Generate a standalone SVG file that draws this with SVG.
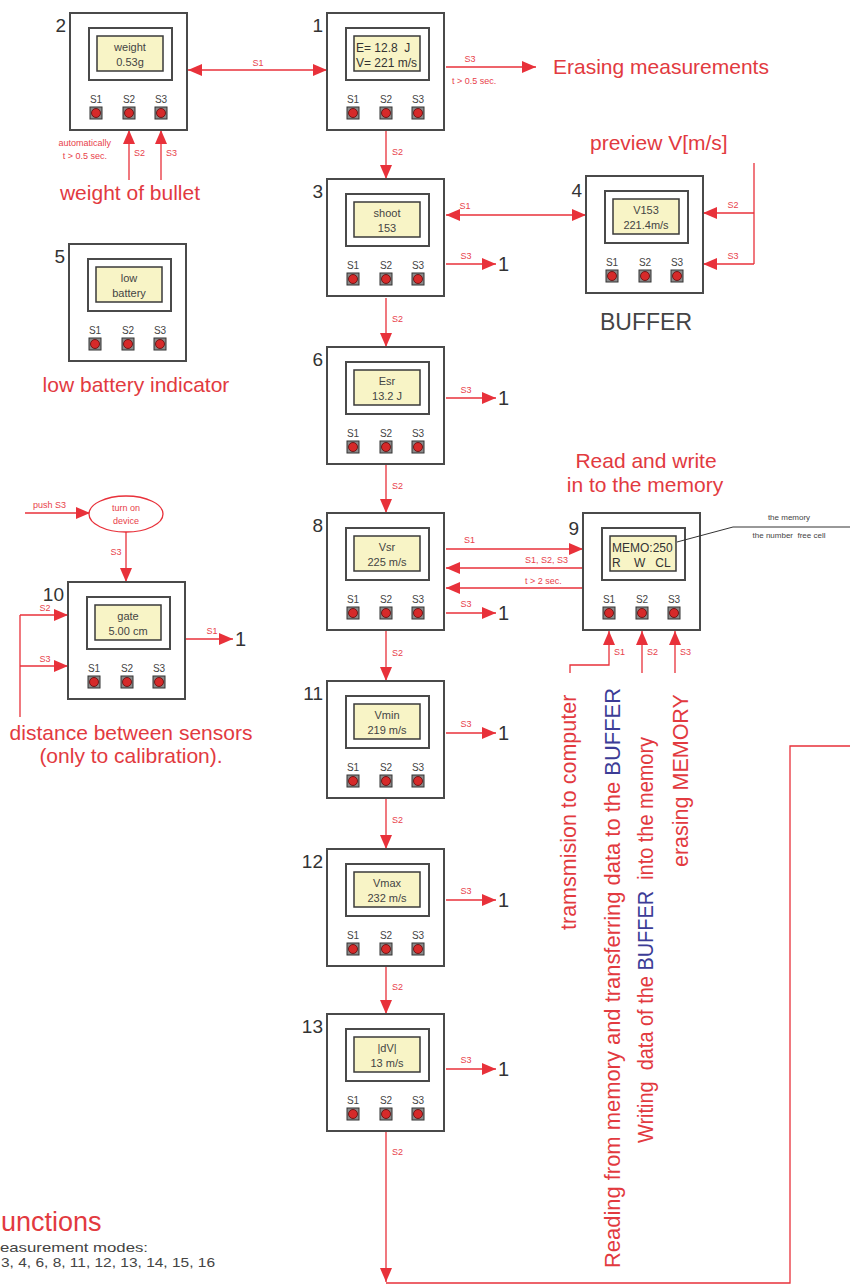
<svg xmlns="http://www.w3.org/2000/svg" xmlns:xlink="http://www.w3.org/1999/xlink" width="850" height="1285" viewBox="0 0 850 1285">
<style>
text{font-family:"Liberation Sans",Arial,sans-serif}
.ln{stroke:#e8313a;stroke-width:1.3;fill:none}
.arr{marker-end:url(#ah)}
.arr2{marker-start:url(#ah);marker-end:url(#ah)}
.sl{font-size:9px;fill:#e8414a}
.big{font-size:21px;fill:#e23a3f}
.rot{font-size:21.5px;fill:#e23a3f}
.blue{fill:#3c3c96}
.num{font-size:19px;fill:#333;text-anchor:end}
.lcd{font-size:11px;fill:#444;text-anchor:middle}
.lcdl{font-size:12px;fill:#333}
.bl{font-size:10px;fill:#444;text-anchor:middle}
.dk{font-size:8px;fill:#444;text-anchor:middle}
.gr{font-size:13px;fill:#444}
</style>
<defs>
<marker id="ah" viewBox="0 0 14 12" refX="14" refY="6" markerWidth="14" markerHeight="12" markerUnits="userSpaceOnUse" orient="auto-start-reverse">
<path d="M0,0 L14,6 L0,12 z" fill="#e8313a"/>
</marker>
<g id="btn">
<rect x="-6" y="-6" width="12" height="12" fill="#8a8a8a" stroke="#333" stroke-width="1"/>
<circle r="4.5" fill="#d62a2a" stroke="#5a0a0a" stroke-width="0.8"/>
</g>
<g id="dev">
<rect x="0" y="0" width="117" height="117" fill="#fff" stroke="#4a4a4a" stroke-width="2"/>
<rect x="19" y="15" width="83" height="52" fill="#fff" stroke="#4a4a4a" stroke-width="2"/>
<rect x="27" y="23" width="66" height="35" fill="#f8f4c6" stroke="#3a3a3a" stroke-width="1.5"/>
<text class="bl" x="26" y="90">S1</text>
<text class="bl" x="59" y="90">S2</text>
<text class="bl" x="91" y="90">S3</text>
<use xlink:href="#btn" x="26" y="100"/>
<use xlink:href="#btn" x="59" y="100"/>
<use xlink:href="#btn" x="91" y="100"/>
</g>
</defs>

<g id="connectors">
<line class="ln arr2" x1="188" y1="70" x2="327" y2="70"/>
<text class="sl" x="258" y="66" text-anchor="middle">S1</text>
<line class="ln arr" x1="446" y1="67" x2="536" y2="67"/>
<text class="sl" x="470" y="62" text-anchor="middle">S3</text>
<text class="sl" x="452" y="84" font-size="8">t &gt; 0.5 sec.</text>
<line class="ln arr" x1="386" y1="130" x2="386" y2="179"/>
<text class="sl" x="392" y="155">S2</text>
<line class="ln arr2" x1="446" y1="215" x2="586" y2="215"/>
<text class="sl" x="465" y="209" text-anchor="middle">S1</text>
<line class="ln arr" x1="446" y1="264" x2="496" y2="264"/>
<text class="sl" x="466" y="259" text-anchor="middle">S3</text>
<path class="ln" d="M754,163 V264"/>
<line class="ln arr" x1="754" y1="213" x2="703" y2="213"/>
<line class="ln arr" x1="754" y1="264" x2="703" y2="264"/>
<text class="sl" x="733" y="208" text-anchor="middle">S2</text>
<text class="sl" x="733" y="259" text-anchor="middle">S3</text>
<line class="ln arr" x1="129" y1="180" x2="129" y2="130"/>
<line class="ln arr" x1="161" y1="180" x2="161" y2="130"/>
<text class="sl" x="134" y="156">S2</text>
<text class="sl" x="166" y="156">S3</text>
<text class="sl" x="111" y="146" text-anchor="end" font-size="8">automatically</text>
<text class="sl" x="107" y="159" text-anchor="end" font-size="8">t &gt; 0.5 sec.</text>
<line class="ln arr" x1="386" y1="298" x2="386" y2="347"/>
<text class="sl" x="392" y="322">S2</text>
<line class="ln arr" x1="446" y1="398" x2="496" y2="398"/>
<text class="sl" x="466" y="393" text-anchor="middle">S3</text>
<line class="ln arr" x1="386" y1="465" x2="386" y2="513"/>
<text class="sl" x="392" y="489">S2</text>
<line class="ln arr" x1="446" y1="549" x2="583" y2="549"/>
<text class="sl" x="464" y="543">S1</text>
<line class="ln arr" x1="583" y1="568" x2="446" y2="568"/>
<text class="sl" x="525" y="563">S1, S2, S3</text>
<line class="ln arr" x1="583" y1="588" x2="446" y2="588"/>
<text class="sl" x="525" y="584">t &gt; 2 sec.</text>
<line class="ln arr" x1="446" y1="613" x2="496" y2="613"/>
<text class="sl" x="466" y="607" text-anchor="middle">S3</text>
<line class="ln arr" x1="386" y1="631" x2="386" y2="681"/>
<text class="sl" x="392" y="656">S2</text>
<path class="ln arr" d="M570,673 V665 H609 V631"/>
<line class="ln arr" x1="642" y1="673" x2="642" y2="631"/>
<line class="ln arr" x1="675" y1="673" x2="675" y2="631"/>
<text class="sl" x="614" y="655">S1</text>
<text class="sl" x="647" y="655">S2</text>
<text class="sl" x="680" y="655">S3</text>
<line class="ln arr" x1="446" y1="733" x2="496" y2="733"/>
<text class="sl" x="466" y="727" text-anchor="middle">S3</text>
<line class="ln arr" x1="386" y1="799" x2="386" y2="849"/>
<text class="sl" x="392" y="823">S2</text>
<line class="ln arr" x1="446" y1="900" x2="496" y2="900"/>
<text class="sl" x="466" y="894" text-anchor="middle">S3</text>
<line class="ln arr" x1="386" y1="967" x2="386" y2="1014"/>
<text class="sl" x="392" y="990">S2</text>
<line class="ln arr" x1="446" y1="1069" x2="496" y2="1069"/>
<text class="sl" x="466" y="1063" text-anchor="middle">S3</text>
<line class="ln arr" x1="386" y1="1132" x2="386" y2="1282"/>
<text class="sl" x="392" y="1155">S2</text>
<path class="ln" d="M386,1283 H790 V746 H850"/>
<line class="ln arr" x1="25" y1="513" x2="90" y2="513"/>
<text class="sl" x="33" y="508" font-size="8">push S3</text>
<line class="ln arr" x1="126" y1="532" x2="126" y2="582"/>
<text class="sl" x="116" y="555" text-anchor="middle">S3</text>
<path class="ln" d="M20,717 V615"/>
<line class="ln arr" x1="20" y1="615" x2="68" y2="615"/>
<line class="ln arr" x1="20" y1="666" x2="68" y2="666"/>
<text class="sl" x="45" y="611" text-anchor="middle">S2</text>
<text class="sl" x="45" y="662" text-anchor="middle">S3</text>
<line class="ln arr" x1="186" y1="639" x2="233" y2="639"/>
<text class="sl" x="212" y="634" text-anchor="middle">S1</text>
</g>

<g id="turn-on">
<ellipse cx="126" cy="514" rx="37" ry="18" fill="#fff" stroke="#e8313a" stroke-width="1.3"/>
<text class="sl" x="126" y="511" text-anchor="middle" font-size="8">turn on</text>
<text class="sl" x="126" y="524" text-anchor="middle" font-size="8">device</text>
</g>

<g id="targets">
<text x="498" y="271" font-size="20" fill="#333">1</text>
<text x="498" y="405" font-size="20" fill="#333">1</text>
<text x="498" y="620" font-size="20" fill="#333">1</text>
<text x="498" y="740" font-size="20" fill="#333">1</text>
<text x="498" y="907" font-size="20" fill="#333">1</text>
<text x="498" y="1076" font-size="20" fill="#333">1</text>
<text x="235" y="646" font-size="20" fill="#333">1</text>
</g>

<g id="node2" transform="translate(70,13)"><use xlink:href="#dev"/><text class="lcd" x="60" y="38">weight</text><text class="lcd" x="60" y="53">0.53g</text><text class="num" x="-4" y="19">2</text></g>
<g id="node1" transform="translate(327,13)"><use xlink:href="#dev"/><text class="lcdl" x="29" y="39" xml:space="preserve">E= 12.8  J</text><text class="lcdl" x="29" y="54">V= 221 m/s</text><text class="num" x="-4" y="19">1</text></g>
<g id="node3" transform="translate(327,179)"><use xlink:href="#dev"/><text class="lcd" x="60" y="38">shoot</text><text class="lcd" x="60" y="53">153</text><text class="num" x="-4" y="19">3</text></g>
<g id="node4" transform="translate(586,176)"><use xlink:href="#dev"/><text class="lcd" x="60" y="38">V153</text><text class="lcd" x="60" y="53">221.4m/s</text><text class="num" x="-4" y="21">4</text></g>
<g id="node5" transform="translate(69,244)"><use xlink:href="#dev"/><text class="lcd" x="60" y="38">low</text><text class="lcd" x="60" y="53">battery</text><text class="num" x="-4" y="19">5</text></g>
<g id="node6" transform="translate(327,347)"><use xlink:href="#dev"/><text class="lcd" x="60" y="38">Esr</text><text class="lcd" x="60" y="53">13.2 J</text><text class="num" x="-4" y="19">6</text></g>
<g id="node8" transform="translate(327,513)"><use xlink:href="#dev"/><text class="lcd" x="60" y="38">Vsr</text><text class="lcd" x="60" y="53">225 m/s</text><text class="num" x="-4" y="19">8</text></g>
<g id="node9" transform="translate(583,513)"><use xlink:href="#dev"/><text class="lcdl" x="29" y="39">MEMO:250</text><text class="lcdl" x="29" y="54" xml:space="preserve">R    W   CL</text><text class="num" x="-4" y="22">9</text></g>
<g id="node10" transform="translate(68,582)"><use xlink:href="#dev"/><text class="lcd" x="60" y="38">gate</text><text class="lcd" x="60" y="53">5.00 cm</text><text class="num" x="-4" y="19">10</text></g>
<g id="node11" transform="translate(327,681)"><use xlink:href="#dev"/><text class="lcd" x="60" y="38">Vmin</text><text class="lcd" x="60" y="53">219 m/s</text><text class="num" x="-4" y="19">11</text></g>
<g id="node12" transform="translate(327,849)"><use xlink:href="#dev"/><text class="lcd" x="60" y="38">Vmax</text><text class="lcd" x="60" y="53">232 m/s</text><text class="num" x="-4" y="19">12</text></g>
<g id="node13" transform="translate(327,1014)"><use xlink:href="#dev"/><text class="lcd" x="60" y="38">|dV|</text><text class="lcd" x="60" y="53">13 m/s</text><text class="num" x="-4" y="19">13</text></g>

<g id="memory-callout">
<polyline points="677,542 733,527 850,527" fill="none" stroke="#333" stroke-width="1"/>
<text class="dk" x="789" y="520">the memory</text>
<text class="dk" x="789" y="538" xml:space="preserve">the number  free cell</text>
</g>

<g id="labels">
<text class="big" x="553" y="74">Erasing measurements</text>
<text class="big" x="590" y="150">preview V[m/s]</text>
<text x="600" y="330" font-size="23" fill="#444">BUFFER</text>
<text class="big" x="130" y="200" text-anchor="middle">weight of bullet</text>
<text class="big" x="136" y="392" text-anchor="middle">low battery indicator</text>
<text class="big" x="131" y="740" text-anchor="middle">distance between sensors</text>
<text class="big" x="131" y="763" text-anchor="middle">(only to calibration).</text>
<text class="big" x="646" y="468" text-anchor="middle">Read and write</text>
<text class="big" x="645" y="492" text-anchor="middle">in to the memory</text>
<text class="rot" transform="translate(576,930) rotate(-90)">tramsmision to computer</text>
<text class="rot" transform="translate(620,1268) rotate(-90)" textLength="580" lengthAdjust="spacingAndGlyphs">Reading from memory and transferring data to the <tspan class="blue">BUFFER</tspan></text>
<text class="rot" transform="translate(653,1143) rotate(-90)" font-size="20" xml:space="preserve" textLength="406" lengthAdjust="spacingAndGlyphs">Writing  data of the <tspan class="blue">BUFFER</tspan>  into the memory</text>
<text class="rot" transform="translate(688,867) rotate(-90)">erasing MEMORY</text>
<text x="1" y="1231" font-size="27" fill="#e23a3f">unctions</text>
<text class="gr" x="0" y="1252" textLength="148" lengthAdjust="spacingAndGlyphs">easurement modes:</text>
<text class="gr" x="1" y="1267" textLength="214" lengthAdjust="spacingAndGlyphs">3, 4, 6, 8, 11, 12, 13, 14, 15, 16</text>
</g>
</svg>
